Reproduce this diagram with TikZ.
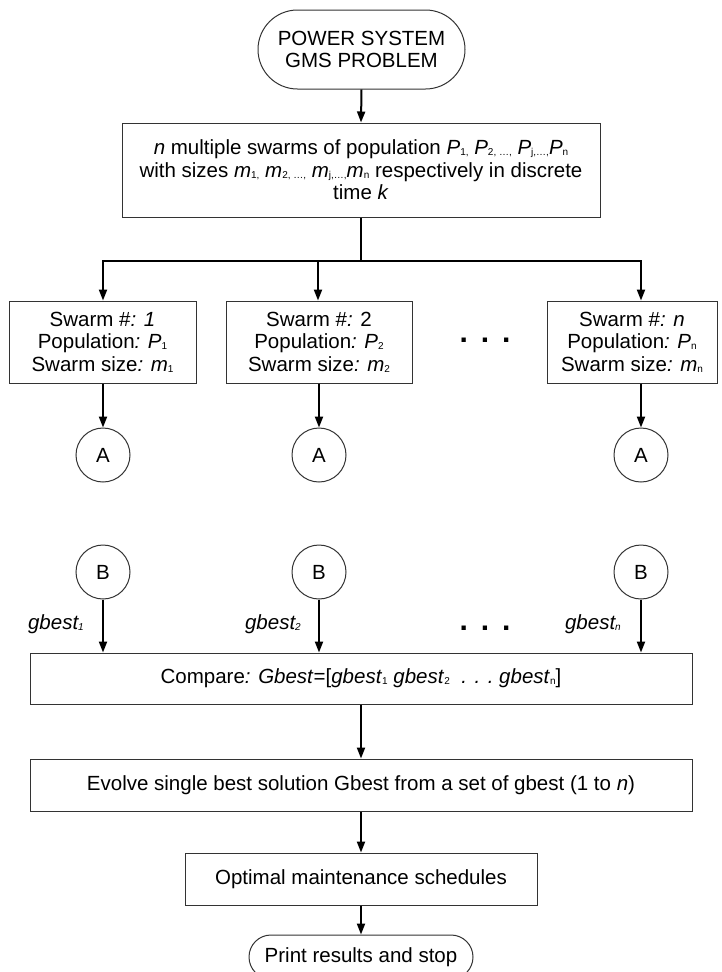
\documentclass[tikz,border=0pt]{standalone}
\usepackage{fontspec}
\setmainfont{Liberation Sans}
\usetikzlibrary{arrows.meta,shapes.misc}
\newcommand{\sbs}[1]{\raisebox{-1pt}{\fontsize{10}{10}\selectfont #1}}
\newcommand{\isbs}[1]{\raisebox{-1pt}{\fontsize{10}{10}\selectfont\itshape #1}}
\begin{document}
\begin{tikzpicture}[x=1pt,y=-1pt,
  txt/.style={font=\fontsize{20.5}{22.5}\selectfont},
  box/.style={txt,draw=black!80,line width=1pt,rectangle,align=center,inner sep=0pt},
  term/.style={txt,draw=black!80,line width=1pt,rounded rectangle,align=center,inner sep=0pt},
  conn/.style={draw=black,line width=2pt},
  arr/.style={conn,-{Triangle[length=11pt,width=8pt]}},
  circ/.style={txt,draw=black!80,line width=1pt,circle,minimum size=54pt,inner sep=0pt},
  lbl/.style={font=\fontsize{20.5}{22.5}\selectfont\itshape,anchor=east,inner sep=0pt},
  dotrow/.style={font=\fontsize{30}{30}\selectfont\bfseries,anchor=base,inner sep=0pt}
]
\useasboundingbox (0,0) rectangle (722,972);
\fill[white] (0,0) rectangle (722,972);

\node[term,minimum width=207pt,minimum height=79pt] (start) at (361.5,49.5) {POWER SYSTEM\\GMS PROBLEM};

\node[box,minimum width=478pt,minimum height=94pt] (box1) at (361,170)
 {\textit{n} multiple swarms of population \textit{P}\sbs{1,} \textit{P}\sbs{2, \dots,} \textit{P}\sbs{j,\dots,}\textit{P}\sbs{n}\\
  with sizes \textit{m}\sbs{1,} \textit{m}\sbs{2, \dots,} \textit{m}\sbs{j,\dots,}\textit{m}\sbs{n} respectively in discrete\\
  time \textit{k}};

\node[box,minimum width=187pt,minimum height=82pt] (s1) at (102.5,342)
 {Swarm \#\textit{: 1}\\Population\textit{: P}\sbs{1}\\Swarm size\textit{: m}\sbs{1}};
\node[box,minimum width=186pt,minimum height=82pt] (s2) at (319,342)
 {Swarm \#\textit{:} 2\\Population\textit{: P}\sbs{2}\\Swarm size\textit{: m}\sbs{2}};
\node[box,minimum width=170pt,minimum height=82pt] (sn) at (632,342)
 {Swarm \#\textit{: n}\\Population\textit{: P}\sbs{n}\\Swarm size\textit{: m}\sbs{n}};

\node[dotrow] (d1) at (485,342) {.\hspace{13pt}.\hspace{13pt}.};

\node[circ] (a1) at (103,455) {A};
\node[circ] (a2) at (319,455) {A};
\node[circ] (an) at (641,455) {A};

\node[circ] (b1) at (103,572) {B};
\node[circ] (b2) at (319,572) {B};
\node[circ] (bn) at (641,572) {B};

\node[lbl] (g1) at (84,624) {gbest\isbs{1}};
\node[lbl] (g2) at (301,624) {gbest\isbs{2}};
\node[lbl] (gn) at (621,624) {gbest\isbs{n}};
\node[dotrow] (d2) at (485,630) {.\hspace{13pt}.\hspace{13pt}.};

\node[box,minimum width=662pt,minimum height=51pt] (cmp) at (361,678.5)
 {Compare\textit{: Gbest}=[\textit{gbest}\sbs{1} \textit{gbest}\sbs{2}\ \ \textit{. . .}\ \textit{gbest}\sbs{n}]};
\node[box,minimum width=662pt,minimum height=52pt] (ev) at (361,785)
 {Evolve single best solution Gbest from a set of gbest (1 to \textit{n})};
\node[box,minimum width=352pt,minimum height=52pt] (opt) at (361,879)
 {Optimal maintenance schedules};
\node[term,minimum width=224pt,minimum height=44pt] (pr) at (361,957)
 {Print results and stop};

\coordinate (j) at (361,261);
\coordinate (jl) at (103,261);
\coordinate (jm) at (318,261);
\coordinate (jr) at (641,261);

\draw[arr] (start.south) -- (box1.north);
\draw[conn] (box1.south) -- (j);
\draw[conn] ([xshift=-1pt]jl) -- ([xshift=1pt]jr);
\draw[arr] (jl) -- (jl |- s1.north);
\draw[arr] (jm) -- (jm |- s2.north);
\draw[arr] (jr) -- (jr |- sn.north);

\draw[arr] (a1 |- s1.south) -- (a1.north);
\draw[arr] (a2 |- s2.south) -- (a2.north);
\draw[arr] (an |- sn.south) -- (an.north);

\draw[arr] (b1.south) -- (b1 |- cmp.north);
\draw[arr] (b2.south) -- (b2 |- cmp.north);
\draw[arr] (bn.south) -- (bn |- cmp.north);

\draw[arr] (cmp.south) -- (ev.north);
\draw[arr] (ev.south) -- (opt.north);
\draw[arr] (opt.south) -- (pr.north);
\end{tikzpicture}
\end{document}
